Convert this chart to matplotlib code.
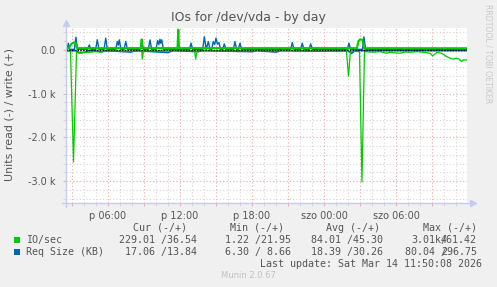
import numpy as np
import matplotlib.pyplot as plt
from matplotlib.patches import Rectangle

# time axis in hours since Friday 00:00 (p = pentek, szo = szombat)
read_io_t = [2.5, 2.875, 3.125, 3.375, 3.667, 4.333, 4.917, 5.333, 6.167, 7.833,
             8.667, 8.808, 8.858, 8.958, 11.167, 13.208, 13.308, 13.417, 17.0, 22.0,
             24.5, 25.875, 26.042, 26.208, 26.958, 27.167, 27.375, 28.108, 28.667,
             29.225, 29.5, 29.917, 30.333, 30.75, 31.167, 31.858, 32.417, 32.833,
             33.058, 33.392, 33.808, 34.225, 34.5, 34.775, 35.0, 35.192, 35.475,
             35.583, 35.75, 35.917]
read_io_v = [-30, -30, -2560, -60, -50, -60, -40, -50, -20, -30,
             -20, -30, -210, -20, -20, -20, -210, -20, -20, -20,
             -30, -30, -600, -30, -40, -3020, -40, -53, -40,
             -76, -53, -70, -76, -50, -53, -40, -60, -76,
             -137, -60, -76, -153, -190, -213, -190, -200, -267,
             -230, -229, -229]

write_io_t = [2.5, 2.75, 2.917, 3.083, 3.292, 3.417, 8.75, 8.808, 8.875, 11.792,
              11.858, 11.917, 26.75, 26.875, 27.0, 27.208, 27.333, 35.917]
write_io_v = [30, 40, 130, 160, 170, 40, 40, 240, 40, 40,
              461, 40, 40, 200, 240, 230, 40, 37]

write_req_t = [2.5, 2.6, 2.69, 2.8, 3.2, 3.33, 3.45, 4.3, 4.44, 4.58, 4.97, 5.11, 5.25,
               5.67, 5.81, 5.95, 6.64, 6.78, 6.86, 6.94, 7.08, 7.34, 7.48, 7.62,
               8.67, 8.81, 8.95, 9.36, 9.5, 9.64, 10.0, 10.14, 10.24, 10.33, 10.4,
               10.48, 10.62, 12.78, 12.92, 13.06, 13.89, 14.03, 14.19, 14.36, 14.5,
               14.64, 14.78, 14.89, 15.0, 15.12, 15.25, 15.38, 15.56, 15.69, 15.83,
               16.45, 16.58, 16.72, 16.86, 17.0, 17.14, 21.22, 21.36, 21.5, 22.06,
               22.19, 22.33, 22.76, 22.89, 23.03, 25.95, 26.08, 26.22, 27.2, 27.33,
               27.47, 35.917]
write_req_v = [12, 12, 153, 12, 12, 290, 12, 12, 114, 12, 12, 229, 12,
               12, 267, 12, 12, 190, 110, 229, 12, 12, 190, 12,
               12, 213, 12, 12, 229, 12, 12, 213, 120, 244, 150,
               229, 12, 12, 153, 12, 12, 300, 12, 190, 12,
               12, 190, 120, 267, 130, 167, 12, 12, 137, 12,
               12, 190, 12, 12, 153, 12, 12, 167, 12, 12,
               153, 12, 12, 137, 12, 12, 153, 12, 12, 297,
               12, 12]

read_req_t = [2.5, 3.3, 3.6, 4.0, 4.4, 5.5, 5.8, 7.9, 8.3, 11.0, 11.4, 13.5, 13.9,
              18.0, 18.4, 20.0, 20.4, 24.0, 26.0, 26.3, 26.6, 35.917]
read_req_v = [-17, -17, -70, -60, -17, -40, -17, -50, -17, -60, -17, -40, -17,
              -40, -17, -50, -17, -30, -17, -80, -17, -17]

x_ticks = [6, 12, 18, 24, 30]
x_labels = ['p 06:00', 'p 12:00', 'p 18:00', 'szo 00:00', 'szo 06:00']
y_ticks = [0, -1000, -2000, -3000]
y_labels = ['0.0', '-1.0 k', '-2.0 k', '-3.0 k']

green = '#00cc00'
blue = '#0066b3'
bg = '#f0f0f0'
txt = '#555555'

W, H = 497, 287
fig = plt.figure(figsize=(W / 100, H / 100), dpi=100, facecolor=bg)
ax = fig.add_axes([66 / W, 1 - 203 / H, 401 / W, 175 / H])
ax.set_facecolor('white')
ax.set_xlim(2.5, 35.92)
ax.set_ylim(-3500, 500)

# grid
ax.set_xticks(np.arange(3, 36, 3))
ax.set_xticks(np.arange(3, 36, 1), minor=True)
ax.set_xticklabels([x_labels[x_ticks.index(t)] if t in x_ticks else '' for t in np.arange(3, 36, 3)])
ax.set_yticks(y_ticks)
ax.set_yticklabels(y_labels)
ax.set_yticks(np.arange(-3400, 500, 200), minor=True)
ax.grid(which='minor', color='#d4d4d4', linestyle=(0, (1, 2)), linewidth=0.8)
ax.grid(which='major', color='#e6a8a8', linestyle=(0, (1, 2)), linewidth=0.8)
ax.set_axisbelow(True)
ax.tick_params(which='both', direction='out', length=2.5, width=0.7, color='#d4d4d4',
               labelsize=7, labelcolor=txt)
ax.tick_params(which='major', color='#e6a8a8')
ax.tick_params(axis='y', pad=5)
ax.tick_params(axis='x', pad=3)
for s in ax.spines.values():
    s.set_visible(False)

# data
ax.plot(read_req_t, read_req_v, color=blue, lw=1.2)
ax.plot(read_io_t, read_io_v, color=green, lw=0.9)
ax.plot(write_req_t, write_req_v, color=blue, lw=1.0)
ax.plot(write_io_t, write_io_v, color=green, lw=1.5)
ax.axhline(0, color='black', lw=1.0, linestyle=(0, (1, 1)))

# axis lines with arrows
axc = '#c6cbf0'
ax.plot([-0.01, 1.012], [0, 0], transform=ax.transAxes, color=axc, lw=1, clip_on=False)
ax.plot([1.014], [0], transform=ax.transAxes, marker='>', ms=4, color=axc, clip_on=False)
ax.plot([0, 0], [-0.02, 1.02], transform=ax.transAxes, color=axc, lw=1, clip_on=False)
ax.plot([0], [1.03], transform=ax.transAxes, marker='^', ms=4, color=axc, clip_on=False)


def ftext(x, y, s, **kw):
    fig.text(x / W, 1 - y / H, s, va='center', **kw)


ftext(248, 18, 'IOs for /dev/vda - by day', ha='center', fontsize=9, color=txt)
ftext(10, 114, 'Units read (-) / write (+)', ha='center', rotation=90, fontsize=7.9, color=txt)
ftext(488, 54, 'RRDTOOL / TOBI OETIKER', ha='center', rotation=270, fontsize=5.6, color='#c8c8c8')

mono = dict(family='DejaVu Sans Mono', fontsize=7.2, color=txt)
ftext(187, 228, 'Cur (-/+)', ha='right', **mono)
ftext(284, 228, 'Min (-/+)', ha='right', **mono)
ftext(380, 228, 'Avg (-/+)', ha='right', **mono)
ftext(477, 228, 'Max (-/+)', ha='right', **mono)

fig.patches.append(Rectangle((14 / W, 1 - 243 / H), 6 / W, 6 / H, transform=fig.transFigure,
                             facecolor=green, edgecolor='none'))
fig.patches.append(Rectangle((14 / W, 1 - 255 / H), 6 / W, 6 / H, transform=fig.transFigure,
                             facecolor=blue, edgecolor='none'))
ftext(26, 240, 'IO/sec', ha='left', **mono)
ftext(26, 252, 'Req Size (KB)', ha='left', **mono)

ftext(197, 240, '229.01 /36.54', ha='right', **mono)
ftext(291, 240, '1.22 /21.95', ha='right', **mono)
ftext(383, 240, '84.01 /45.30', ha='right', **mono)
ftext(447, 240, '3.01k/', ha='right', **mono)
ftext(477, 240, '461.42', ha='right', **mono)

ftext(197, 252, '17.06 /13.84', ha='right', **mono)
ftext(291, 252, '6.30 / 8.66', ha='right', **mono)
ftext(383, 252, '18.39 /30.26', ha='right', **mono)
ftext(447, 252, '80.04 /', ha='right', **mono)
ftext(477, 252, '296.75', ha='right', **mono)

ftext(482, 264, 'Last update: Sat Mar 14 11:50:08 2026', ha='right', **mono)
ftext(248, 276, 'Munin 2.0.67', ha='center', fontsize=6, color='#c0c0c0')

fig.savefig('out.png', dpi=100, facecolor=bg)
